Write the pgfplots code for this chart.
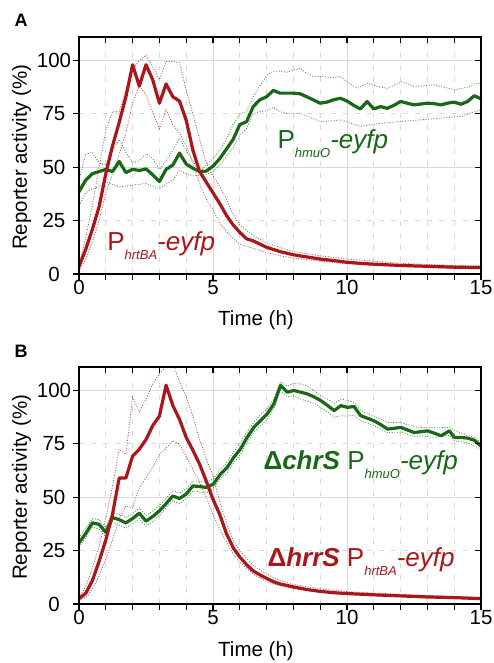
\documentclass[border=0pt]{standalone}
\usepackage{fontspec}
\setmainfont{Liberation Sans}
\usepackage{pgfplots}
\usepackage{pgfplotstable}
\pgfplotsset{compat=1.18}

\definecolor{hrtred}{RGB}{170,22,26}
\definecolor{hmugreen}{RGB}{24,104,24}
\definecolor{gridgray}{RGB}{218,218,218}

% ---- panel A: wild type ----
\pgfplotstableread{
t v
0 3.5
0.25 11.5
0.5 21
0.75 31.5
1.0 47
1.25 60
1.5 71
1.75 83
2.0 98
2.25 88
2.5 98
2.75 91
3.0 80
3.25 89
3.5 83
3.75 81
4.0 72
4.25 58
4.5 48
4.75 43
5.0 38
5.25 33
5.5 27.5
5.75 23
6.0 19.5
6.25 16.5
6.5 15.5
6.75 14
7.0 12.5
7.5 10.5
8.0 9
8.5 8
9.0 7
9.5 6.3
10 5.5
10.5 5.0
11 4.6
11.5 4.3
12 4
12.5 3.8
13 3.6
13.5 3.4
14 3.2
14.5 3.1
15 3.0
}\Ahrt
\pgfplotstableread{
t v
0 4
0.25 17
0.5 32
0.75 50
1.0 67
1.25 76
1.5 76
1.75 86
2.0 96
2.25 100
2.5 102.5
2.75 97
3.0 91
3.25 99.5
3.5 99.5
3.75 99
4.0 86
4.25 75
4.5 63
4.75 52
5.0 46
5.25 41
5.5 35
5.75 28
6.0 23
6.5 18
7.0 14.5
7.5 12.5
8 10.5
9 8.5
10 7
11 6
12 5
13 4.5
14 4
15 3.8
}\AhrtHi
\pgfplotstableread{
t v
0 1.5
0.25 7
0.5 15
0.75 25
1.0 38
1.25 47
1.5 56
1.75 66
2.0 80
2.25 88
2.5 84
2.75 76
3.0 68
3.25 77
3.5 70
3.75 66
4.0 60
4.25 52
4.5 42
4.75 35
5.0 30
5.25 24
5.5 20
5.75 16.5
6.0 14
6.5 12
7.0 10
7.5 8.5
8 7.5
9 6
10 4.8
11 4
12 3.5
13 3
14 2.7
15 2.5
}\AhrtLo
\pgfplotstableread{
t v
0 38.5
0.25 44
0.5 47
0.75 48
1.0 49
1.25 48
1.5 52.7
1.75 47.5
2.0 49
2.25 48.5
2.5 49.2
2.75 46.5
3.0 43.3
3.25 49
3.5 51
3.75 56.6
4.0 51.5
4.25 49.5
4.5 48
4.75 48.2
5.0 50.5
5.25 54
5.5 58.5
5.75 63
6.0 70
6.25 71.3
6.5 78.4
6.75 81.6
7.0 83
7.25 86
7.5 84.7
7.75 84.7
8.0 84.7
8.25 84.4
8.5 83
8.75 81.5
9.0 80
9.25 80.5
9.5 81.6
9.75 82.3
10.0 81
10.25 79
10.5 77.3
10.75 80.8
11.0 77.3
11.25 78.4
11.5 77.6
11.75 79
12.0 80.8
12.25 80
12.5 79.2
12.75 79.6
13.0 80
13.25 79.8
13.5 79.2
13.75 80
14.0 80.5
14.25 79.5
14.5 80.8
14.75 83.5
15.0 82
}\Ahmu
\pgfplotstableread{
t v
0 44
0.25 56
0.5 57
0.75 52
1.0 51
1.25 58
1.5 63
1.75 57
2.0 52
2.25 53
2.5 56.5
2.75 54
3.0 49
3.25 53
3.5 58
3.75 63.5
4.0 58
4.25 53
4.5 48
4.75 51
5.0 54
5.25 58
5.5 63
5.75 70
6.0 75
6.25 76
6.5 83
6.75 88
7.0 93
7.25 95
7.5 95
7.75 94.5
8.0 95.5
8.25 96.4
8.5 94
8.75 92.5
9.0 92.5
9.5 92
9.75 92.5
10.0 90
10.39 87
10.76 89.4
11.13 87.8
11.5 87
12.07 90.2
12.5 87.8
13.26 88.6
14.0 86.3
14.5 87.5
14.81 89.4
15 89
}\AhmuHi
\pgfplotstableread{
t v
0 32
0.25 38
0.5 40
0.75 40.8
1.0 43
1.25 42
1.5 40.8
1.75 41.2
2.0 41.6
2.5 42.4
3.0 40
3.25 42
3.5 44
3.75 48.6
4.0 47
4.25 46
4.5 46.3
4.75 46.5
5.0 48
5.25 51
5.5 55
5.75 59
6.0 65
6.25 68
6.5 75
6.75 76
7.0 76.5
7.25 78
7.5 76
7.75 75.3
8.25 75.3
8.5 74
9.0 71.4
9.5 71.8
9.77 72.2
10.5 69.1
11.26 70.6
12.0 71.4
12.76 72.2
13.5 73
14.26 73.8
15 76.9
}\AhmuLo

% ---- panel B: deletion mutants ----
\pgfplotstableread{
t v
0 2.5
0.25 5
0.5 11
0.75 20
1.0 30
1.25 42
1.5 59
1.75 59
2.0 69.3
2.25 72.5
2.5 77
2.75 83.5
3.0 88
3.25 102.5
3.5 93
3.75 86.5
4.0 78
4.25 72
4.5 65.5
4.75 57.5
5.0 49
5.25 42
5.5 33
5.77 26
6.0 22
6.27 18.2
6.5 15.5
6.77 13.5
7.0 12
7.27 10.4
7.5 9.4
8.0 8
8.5 6.8
9.0 5.9
9.5 5.3
10.0 4.9
11.0 4.3
12.0 3.8
13.0 3.3
14.0 3.0
15.0 2.5
}\Bhrt
\pgfplotstableread{
t v
0 3
0.25 8
0.5 17
0.75 27
1.0 40
1.25 55
1.5 72.5
1.75 70
2.0 97
2.25 90
2.5 96
2.75 103
3.0 108
3.25 111
3.5 113
3.75 104
4.0 97
4.25 88
4.5 77
4.75 68
5.0 60
5.25 48
5.5 38
5.75 30
6.0 25
6.5 18
7.0 14
7.5 11
8.0 9.2
9 7
10 5.8
12 4.5
15 3
}\BhrtHi
\pgfplotstableread{
t v
0 2
0.25 3
0.5 7
0.75 13
1.0 21
1.25 30
1.5 40
1.75 46
2.0 45
2.25 54.5
2.5 59
2.75 64
3.0 70
3.25 73
3.5 76.5
3.75 74.8
4.0 69
4.25 63
4.5 57
4.75 50
5.0 42
5.25 35
5.5 29
5.75 23.5
6.0 19.5
6.5 14
7.0 10.5
7.5 8.5
8 7.2
9 5.5
10 4.5
12 3.5
15 2.2
}\BhrtLo
\pgfplotstableread{
t v
0 28.6
0.25 33
0.5 38
0.75 37.3
1.0 33.6
1.25 40.5
1.5 39.5
1.75 38
2.0 40
2.25 42.5
2.5 38.8
2.75 41
3.0 43.6
3.25 47
3.5 50.6
3.75 49.4
4.0 51.5
4.25 55.3
4.5 55
4.75 54.6
5.0 56
5.27 60.7
5.52 63.8
5.77 68.6
6.02 72.5
6.27 78
6.52 82.7
6.77 85.8
7.02 89
7.27 93.7
7.52 102.4
7.77 99.2
8.02 100
8.27 99.2
8.52 98.4
8.77 97
9.02 95.3
9.27 93
9.52 90.6
9.77 92.9
10.02 92.1
10.26 92.5
10.51 88.2
10.76 87
11.01 85.8
11.26 84
11.51 81.9
11.76 82.3
12.01 82.7
12.26 81.5
12.51 80.3
12.76 80.7
13.01 81.1
13.26 80
13.51 78.8
13.82 81.1
14.01 78
14.26 78
14.5 77.7
14.75 76.7
15.0 74
}\Bhmu
\pgfplotstableread{
t v
0 31
0.25 35.5
0.5 40
0.75 39.5
1.0 36
1.25 42.5
1.5 42
1.75 40.5
2.0 42.5
2.25 45
2.5 41.5
2.75 43.5
3.0 46
3.25 49.5
3.5 53
3.75 52
4.0 54
4.25 57.5
4.5 57.5
4.75 57
5.0 58.5
5.27 63
5.52 66.5
5.77 71.5
6.02 75.5
6.27 80.5
6.52 85
6.77 88.5
7.02 91.5
7.27 96
7.52 104
7.77 102
8.02 103.5
8.27 103
8.52 102
8.77 100
9.02 97.6
9.27 96
9.52 94
9.77 96
10.02 95.3
10.26 94.5
10.51 90.6
11.01 88
11.51 85
12.01 85
12.51 83
12.76 82.7
13.26 82.5
13.82 82.7
14.26 80
14.75 78
15 75.6
}\BhmuHi
\pgfplotstableread{
t v
0 26.5
0.25 31
0.5 36
0.75 35
1.0 31.5
1.25 38.5
1.5 37
1.75 35.5
2.0 37.5
2.25 40
2.5 36.5
2.75 38.5
3.0 41.5
3.25 45
3.5 48.5
3.75 47
4.0 49.5
4.25 53
4.5 52.5
4.75 52
5.0 54
5.27 58.5
5.52 61.5
5.77 66
6.02 70
6.27 75.5
6.52 80.5
6.77 83.5
7.02 86.5
7.27 91.5
7.52 100
7.77 97
8.02 97.5
8.27 96
8.52 95
8.77 94
9.02 92
9.27 90
9.52 87.5
9.77 88.2
10.02 88
10.26 88.5
10.51 85.8
11.01 83.5
11.51 80.3
12.01 80.5
12.51 78.5
12.76 78.8
13.26 78
13.82 79
14.01 76.4
14.5 75.5
15 72.5
}\BhmuLo

\pgfplotsset{
  frame/.style={
    scale only axis, width=402pt, height=237pt,
    xmin=0, xmax=15, ymin=0, ymax=111,
    axis line style={line width=1.3pt},
    tick style={line width=1.2pt, black},
    major tick length=6pt, minor tick length=6pt,
  },
  panel/.style={
    frame,
    tick align=outside, xtick pos=left, ytick pos=left,
    xtick={0,5,10,15}, minor xtick={1,...,14},
    ytick={0,50,100}, minor ytick={25,75},
    extra y ticks={25,75}, extra y tick style={grid=none},
    grid=both,
    major grid style={gridgray, line width=0.8pt},
    minor grid style={gridgray, line width=0.8pt, dash pattern=on 5pt off 7pt},
    tick label style={font=\fontsize{20.5}{24}\selectfont},
    /pgf/number format/assume math mode=true,
    yticklabel style={anchor=center, xshift=-19pt},
    xticklabel style={yshift=3pt},
  },
  inner/.style={
    frame, tick align=inside, xtick pos=right, ytick pos=right,
    xtick={1,...,14}, ytick={25,50,75,100},
    xticklabels={}, yticklabels={},
  },
  main/.style={line width=3.2pt, line join=round},
  band/.style={line width=0.8pt, dash pattern=on 1pt off 1.6pt, opacity=0.75},
}
\tikzset{axlabel/.style={font=\fontsize{20.5}{24}\selectfont, anchor=base, inner sep=0pt}}

\begin{document}
\begin{tikzpicture}
\path[use as bounding box] (-79pt,-389pt) rectangle (415pt,274pt);

% panel A
\begin{axis}[panel, at={(0pt,0pt)}, anchor=south west]
  \addplot[band, hmugreen] table {\AhmuHi};
  \addplot[band, hmugreen] table {\AhmuLo};
  \addplot[band, hrtred] table {\AhrtHi};
  \addplot[band, hrtred] table {\AhrtLo};
  \addplot[main, hmugreen] table {\Ahmu};
  \addplot[main, hrtred] table {\Ahrt};
  \node[anchor=base west, inner sep=0pt, text=hmugreen, font=\fontsize{26}{30}\selectfont]
    at (axis cs:7.4,59) {P\raisebox{-9pt}{\fontsize{13}{15}\selectfont\itshape hmuO}\itshape -eyfp};
  \node[anchor=base west, inner sep=0pt, text=hrtred, font=\fontsize{26}{30}\selectfont]
    at (axis cs:1.05,11.2) {P\raisebox{-9pt}{\fontsize{13}{15}\selectfont\itshape hrtBA}\itshape -eyfp};
\end{axis}
\begin{axis}[inner, at={(0pt,0pt)}, anchor=south west]
\end{axis}
\node[axlabel] at (177pt,-52pt) {Time (h)};
\node[axlabel, rotate=90] at (-52pt,117pt) {Reporter activity (\%)};
\node[font=\bfseries\fontsize{18}{18}\selectfont] at (-58pt,254pt) {A};

% panel B
\begin{axis}[panel, at={(0pt,-330pt)}, anchor=south west]
  \addplot[band, hmugreen] table {\BhmuHi};
  \addplot[band, hmugreen] table {\BhmuLo};
  \addplot[band, hrtred] table {\BhrtHi};
  \addplot[band, hrtred] table {\BhrtLo};
  \addplot[main, hmugreen] table {\Bhmu};
  \addplot[main, hrtred] table {\Bhrt};
  \node[anchor=base west, inner sep=0pt, text=hmugreen, font=\fontsize{26}{30}\selectfont]
    at (axis cs:6.88,63) {{\bfseries Δ\itshape chrS} P\raisebox{-9pt}{\fontsize{13}{15}\selectfont\itshape hmuO}\itshape -eyfp};
  \node[anchor=base west, inner sep=0pt, text=hrtred, font=\fontsize{26}{30}\selectfont]
    at (axis cs:7.03,17.5) {{\bfseries Δ\itshape hrrS} P\raisebox{-9pt}{\fontsize{13}{15}\selectfont\itshape hrtBA}\itshape -eyfp};
\end{axis}
\begin{axis}[inner, at={(0pt,-330pt)}, anchor=south west]
\end{axis}
\node[axlabel] at (177pt,-382pt) {Time (h)};
\node[axlabel, rotate=90] at (-52pt,-213pt) {Reporter activity (\%)};
\node[font=\bfseries\fontsize{18}{18}\selectfont] at (-58pt,-77pt) {B};
\end{tikzpicture}
\end{document}
